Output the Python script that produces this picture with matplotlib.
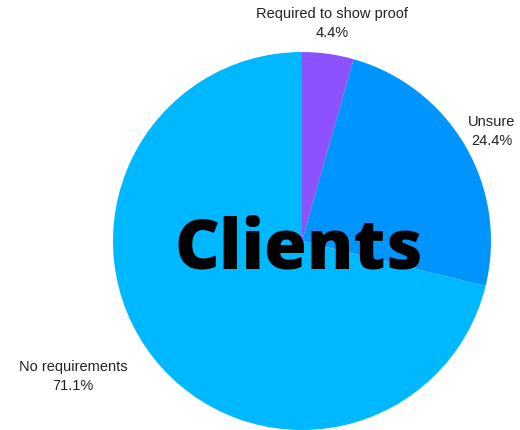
import matplotlib
matplotlib.use('Agg')
import matplotlib.pyplot as plt

# Data
labels = ['Required to show proof', 'Unsure', 'No requirements']
shares = [4.4, 24.4, 71.1]
colors = ['#8c52ff', '#0094ff', '#00b8ff']
title = 'Clients'

W, H = 520, 431
fig = plt.figure(figsize=(W / 100, H / 100), dpi=100)
ax = fig.add_axes([0, 0, 1, 1])

cx, cy, r = 302, H - 242, 189
ax.pie(shares, colors=colors, startangle=90, counterclock=False,
       center=(cx, cy), radius=r, frame=True,
       wedgeprops=dict(linewidth=0))
ax.set_xlim(0, W)
ax.set_ylim(0, H)
ax.set_aspect('auto')
ax.axis('off')

# label positions in pixel coords (x, y of first line)
label_pos = [(332, 14), (492, 122), (73, 367)]
for lab, val, (lx, ly) in zip(labels, shares, label_pos):
    ax.text(lx, H - ly, lab, ha='center', va='center', fontsize=10.5,
            family='Liberation Sans', color='#222222')
    ax.text(lx, H - ly - 19, f'{val}%', ha='center', va='center', fontsize=10.5,
            family='Liberation Sans', color='#222222')

ax.text(299, H - 242, title, ha='center', va='center_baseline', fontsize=50,
        family='Open Sans', fontweight='heavy', color='black')

fig.savefig('out.png', dpi=100)
